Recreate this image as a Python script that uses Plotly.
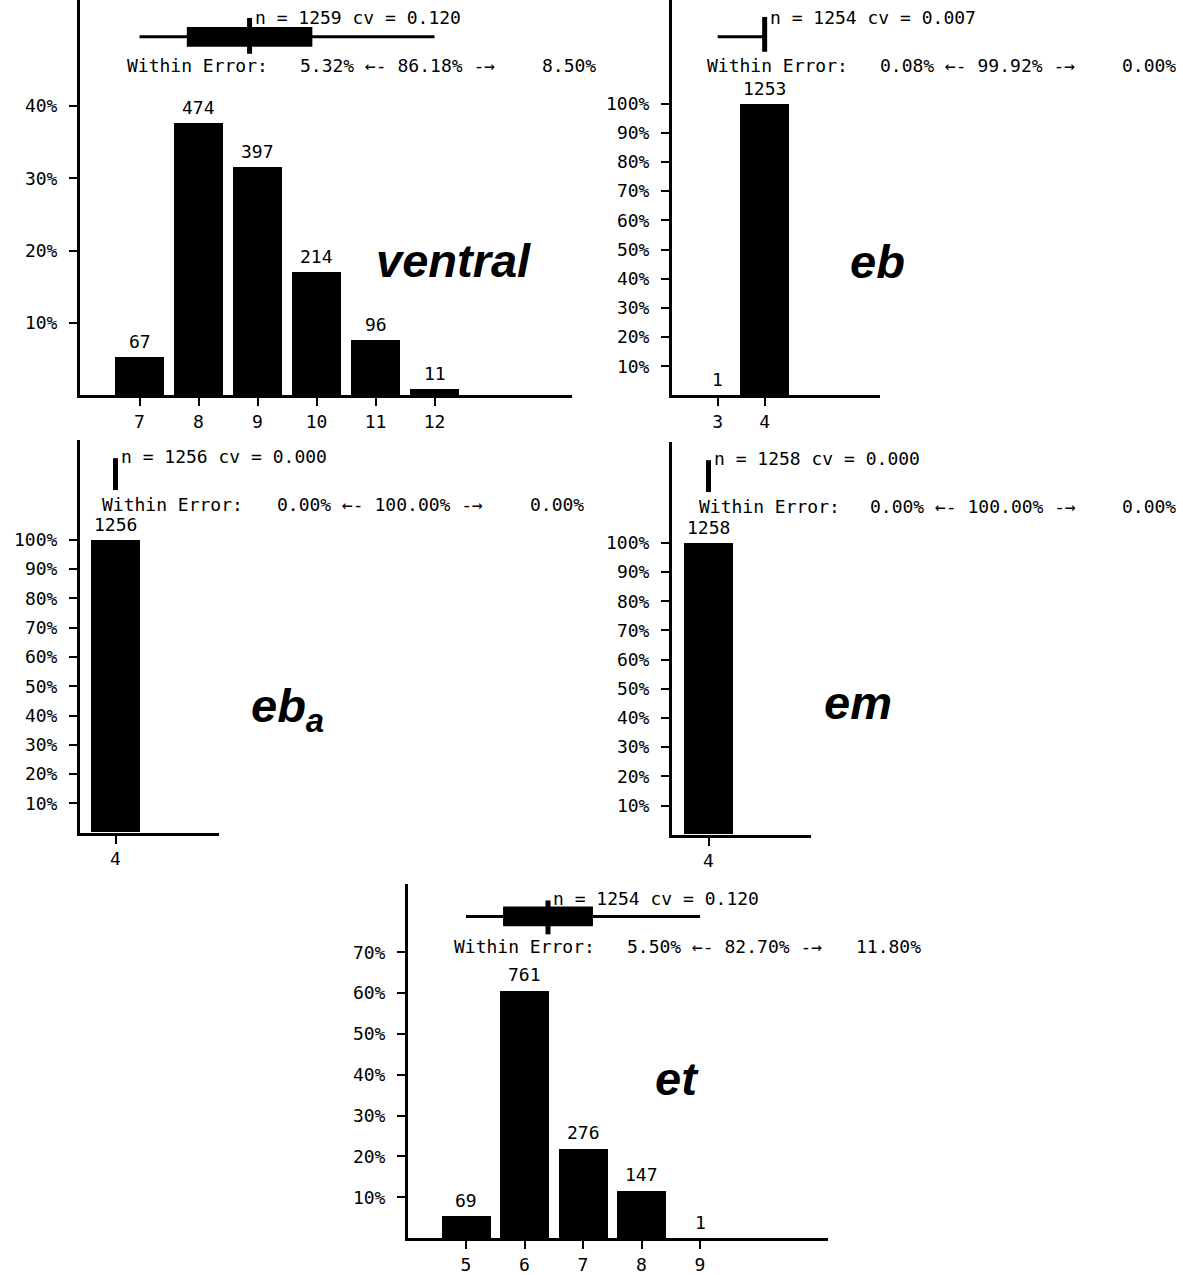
import plotly.graph_objects as go

W, H = 1183, 1275

# ---------------- data ----------------
ventral_vals = [7, 8, 9, 10, 11, 12]
ventral_counts = [67, 474, 397, 214, 96, 11]

eb_vals = [3, 4]
eb_counts = [1, 1253]

eba_vals = [4]
eba_counts = [1256]

em_vals = [4]
em_counts = [1258]

et_vals = [5, 6, 7, 8, 9]
et_counts = [69, 761, 276, 147, 1]

panel_names = ["ventral", "eb", "eb<sub>a</sub>", "em", "et"]
panel_n = [1259, 1254, 1256, 1258, 1254]
panel_cv = [0.120, 0.007, 0.000, 0.000, 0.120]
within_low = [5.32, 0.08, 0.00, 0.00, 5.50]
within_mid = [86.18, 99.92, 100.00, 100.00, 82.70]
within_high = [8.50, 0.00, 0.00, 0.00, 11.80]
y_tick_pcts = [
    [10, 20, 30, 40],
    [10, 20, 30, 40, 50, 60, 70, 80, 90, 100],
    [10, 20, 30, 40, 50, 60, 70, 80, 90, 100],
    [10, 20, 30, 40, 50, 60, 70, 80, 90, 100],
    [10, 20, 30, 40, 50, 60, 70],
]
panel_vals = [ventral_vals, eb_vals, eba_vals, em_vals, et_vals]
panel_counts = [ventral_counts, eb_counts, eba_counts, em_counts, et_counts]

# ---------------- layout geometry (pixels) ----------------
# left/right/top/bottom of each plot area, pixel position of the first
# category, pixels per category, pixels per percent
geom = [
    dict(l=80, r=572, t=0, b=397, ref=139.5, unit=59.0, pct=7.27),
    dict(l=672, r=880, t=0, b=397, ref=717.7, unit=47.0, pct=2.93),
    dict(l=80, r=219, t=442, b=836, ref=115.5, unit=49.0, pct=2.94),
    dict(l=672, r=811, t=444, b=838, ref=708.5, unit=49.0, pct=2.93),
    dict(l=408, r=828, t=887, b=1243, ref=466.0, unit=58.5, pct=4.10),
]
# header rows: n/cv text y, whisker y, marker top/bottom, "Within Error" row
header = [
    dict(ny=18, wy=37, mt=18, mb=54, ey=66, ex0=125, exm=298, exe=598),
    dict(ny=18, wy=37, mt=17, mb=52, ey=66, ex0=705, exm=878, exe=1178),
    dict(ny=458, wy=476, mt=460, mb=492, ey=506, ex0=100, exm=275, exe=586),
    dict(ny=460, wy=478, mt=462, mb=494, ey=508, ex0=697, exm=868, exe=1178),
    dict(ny=902, wy=920, mt=904, mb=938, ey=950, ex0=452, exm=625, exe=923),
]
# centre of the big italic panel name
name_pos = [(453, 262), (877, 263), (287, 712), (858, 705), (677, 1083)]

BAR_PX = 49
MONO = "DejaVu Sans Mono"
SMALL = dict(family=MONO, size=18, color="black")


def px_x(p):
    return p / W


def px_y(p):
    return 1 - p / H


fig = go.Figure()
shapes = []
annotations = []

for i in range(5):
    g = geom[i]
    hd = header[i]
    vals = panel_vals[i]
    counts = panel_counts[i]
    n = panel_n[i]
    pcts = [c / n * 100 for c in counts]
    ax = "" if i == 0 else str(i + 1)
    xa, ya = "x" + ax, "y" + ax

    first = vals[0]
    x_lo = first - (g["ref"] - g["l"]) / g["unit"]
    x_hi = first + (g["r"] - g["ref"]) / g["unit"]
    y_hi = (g["b"] - g["t"]) / g["pct"]

    fig.add_trace(go.Bar(
        x=vals, y=pcts, width=BAR_PX / g["unit"],
        marker=dict(color="black", line=dict(width=0)),
        xaxis=xa, yaxis=ya, showlegend=False, hoverinfo="skip",
    ))

    # count labels above each bar
    for v, c, p in zip(vals, counts, pcts):
        annotations.append(dict(
            x=v, y=p, xref=xa, yref=ya, text=str(c), showarrow=False,
            xanchor="center", yanchor="bottom", yshift=3, font=SMALL,
        ))

    axis_common = dict(
        showline=True, linewidth=3, linecolor="black", showgrid=False,
        zeroline=False, ticks="outside", ticklen=8, tickwidth=2,
        tickcolor="black", tickfont=SMALL, fixedrange=True,
    )
    fig.update_layout(**{
        ("xaxis" + ax): dict(
            domain=[px_x(g["l"]), px_x(g["r"])], range=[x_lo, x_hi],
            tickvals=vals, ticktext=[str(v) for v in vals],
            anchor=ya, **axis_common,
        ),
        ("yaxis" + ax): dict(
            domain=[px_y(g["b"]), px_y(g["t"])], range=[0, y_hi],
            tickvals=y_tick_pcts[i],
            ticktext=[f"{t}%" for t in y_tick_pcts[i]],
            anchor=xa, ticklabelstandoff=8, **axis_common,
        ),
    })

    # summary glyph: whisker = range, box = mean ± sd, bar = mean
    mean = sum(v * c for v, c in zip(vals, counts)) / sum(counts)
    sd = panel_cv[i] * mean
    vmin = min(v for v, c in zip(vals, counts) if c > 0)
    vmax = max(v for v, c in zip(vals, counts) if c > 0)
    if vmax > vmin:
        shapes.append(dict(
            type="line", xref=xa, yref="paper", x0=vmin, x1=vmax,
            y0=px_y(hd["wy"]), y1=px_y(hd["wy"]),
            line=dict(color="black", width=3),
        ))
    if sd > 0:
        shapes.append(dict(
            type="rect", xref=xa, yref="paper", x0=mean - sd, x1=mean + sd,
            y0=px_y(hd["wy"] + 10), y1=px_y(hd["wy"] - 10),
            fillcolor="black", line=dict(width=0),
        ))
    shapes.append(dict(
        type="rect", xref=xa, yref="paper", xsizemode="pixel", xanchor=mean,
        x0=-2.5, x1=2.5, y0=px_y(hd["mb"]), y1=px_y(hd["mt"]),
        fillcolor="black", line=dict(width=0),
    ))

    annotations.append(dict(
        x=mean, xref=xa, y=px_y(hd["ny"]), yref="paper",
        text=f"n = {n} cv = {panel_cv[i]:.3f}",
        showarrow=False, xanchor="left", yanchor="middle", xshift=3,
        font=SMALL,
    ))
    annotations.append(dict(
        x=px_x(hd["ex0"]), y=px_y(hd["ey"]), xref="paper", yref="paper",
        text="Within Error:", showarrow=False, xanchor="left",
        yanchor="middle", font=SMALL,
    ))
    annotations.append(dict(
        x=px_x(hd["exm"]), y=px_y(hd["ey"]), xref="paper", yref="paper",
        text=f"{within_low[i]:.2f}% ←- {within_mid[i]:.2f}% -→",
        showarrow=False, xanchor="left", yanchor="middle", font=SMALL,
    ))
    annotations.append(dict(
        x=px_x(hd["exe"]), y=px_y(hd["ey"]), xref="paper", yref="paper",
        text=f"{within_high[i]:.2f}%", showarrow=False, xanchor="right",
        yanchor="middle", font=SMALL,
    ))

    nx, ny = name_pos[i]
    annotations.append(dict(
        x=px_x(nx), y=px_y(ny), xref="paper", yref="paper",
        text=panel_names[i], showarrow=False, xanchor="center",
        yanchor="middle",
        font=dict(family="Liberation Sans", size=47, color="black",
                  weight="bold", style="italic"),
    ))

fig.update_layout(
    width=W, height=H, margin=dict(l=0, r=0, t=0, b=0),
    paper_bgcolor="white", plot_bgcolor="white",
    shapes=shapes, annotations=annotations, showlegend=False,
    bargap=0,
)

fig.write_html("out.html", config={"displayModeBar": False})
